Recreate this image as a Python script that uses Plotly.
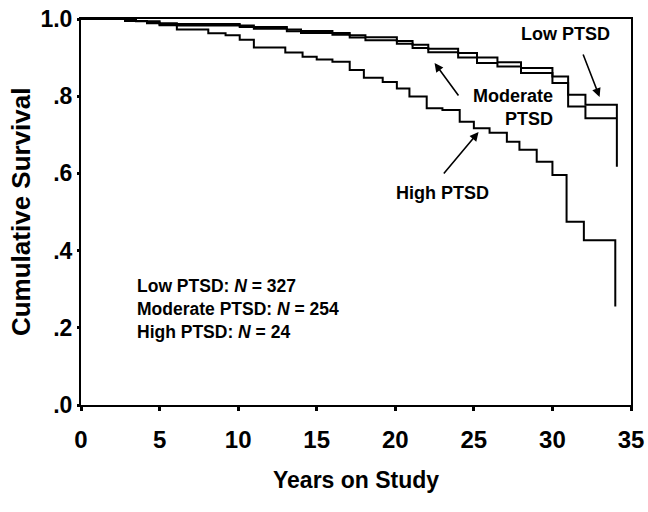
import plotly.graph_objects as go

# ---- data ----
low_t = [0, 3.0, 4.2, 5.0, 6.1, 10.1, 11.0, 13.1, 14.0, 16.0, 17.1, 18.1, 20.1, 21.1, 22.1, 24.0, 25.2, 26.5, 28.0, 30.0, 31.0, 32.1, 34.1, 34.1]
low_s = [1.0, 0.995, 0.991, 0.989, 0.987, 0.983, 0.979, 0.973, 0.969, 0.964, 0.958, 0.953, 0.943, 0.933, 0.923, 0.912, 0.900, 0.888, 0.873, 0.851, 0.804, 0.778, 0.778, 0.617]

mod_t = [0, 2.8, 4.2, 5.0, 6.1, 10.1, 11.0, 13.1, 14.0, 16.0, 17.1, 18.1, 20.1, 21.1, 22.1, 24.0, 25.2, 26.5, 28.0, 30.0, 31.0, 32.1, 34.1]
mod_s = [1.0, 0.995, 0.989, 0.986, 0.983, 0.979, 0.975, 0.968, 0.964, 0.959, 0.952, 0.945, 0.936, 0.925, 0.914, 0.900, 0.886, 0.877, 0.860, 0.834, 0.773, 0.743, 0.743]

high_t = [0, 3.5, 5.0, 6.1, 8.1, 9.2, 10.1, 11.0, 13.0, 14.1, 15.0, 16.0, 17.1, 18.0, 19.2, 20.1, 20.9, 22.0, 23.0, 24.1, 25.0, 26.0, 27.1, 27.9, 29.0, 30.0, 30.9, 32.0, 34.0, 34.0]
high_s = [1.0, 0.994, 0.984, 0.973, 0.963, 0.958, 0.946, 0.926, 0.913, 0.902, 0.895, 0.889, 0.868, 0.848, 0.837, 0.820, 0.799, 0.769, 0.764, 0.734, 0.717, 0.705, 0.682, 0.661, 0.630, 0.596, 0.475, 0.427, 0.427, 0.255]

x_ticks = [0, 5, 10, 15, 20, 25, 30, 35]
y_ticks = [0.0, 0.2, 0.4, 0.6, 0.8, 1.0]
y_tick_labels = [".0", ".2", ".4", ".6", ".8", "1.0"]

group_names = ["Low PTSD", "Moderate PTSD", "High PTSD"]
group_n = [327, 254, 24]

FONT = "Liberation Sans, Arial, sans-serif"
ARROW = dict(showarrow=True, arrowhead=2, arrowsize=1.1, arrowwidth=1.6, arrowcolor="black", text="")

fig = go.Figure()
for t, s, name in [(low_t, low_s, group_names[0]), (mod_t, mod_s, group_names[1]), (high_t, high_s, group_names[2])]:
    fig.add_trace(go.Scatter(x=t, y=s, mode="lines", line=dict(shape="hv", color="black", width=2),
                             name=name, showlegend=False, hoverinfo="skip"))

# curve labels
fig.add_annotation(x=30.8, y=0.962, text="<b>Low PTSD</b>", showarrow=False,
                   xanchor="center", yanchor="middle", font=dict(family=FONT, size=18, color="black"))
fig.add_annotation(x=33.0, y=0.798, ax=-17, ay=-44, **ARROW)
fig.add_annotation(x=27.5, y=0.772, text="<b>Moderate<br>PTSD</b>", showarrow=False, align="right",
                   xanchor="center", yanchor="middle", font=dict(family=FONT, size=18, color="black"))
fig.add_annotation(x=22.5, y=0.886, ax=25, ay=34, **ARROW)
fig.add_annotation(x=23.0, y=0.549, text="<b>High PTSD</b>", showarrow=False,
                   xanchor="center", yanchor="middle", font=dict(family=FONT, size=18, color="black"))
fig.add_annotation(x=25.3, y=0.707, ax=-36, ay=43, **ARROW)

ntext = "<br>".join(f"<b>{g}: <i>N</i> = {n}</b>" for g, n in zip(group_names, group_n))
fig.add_annotation(x=3.44, y=0.249, text=ntext, showarrow=False, align="left",
                   xanchor="left", yanchor="middle", font=dict(family=FONT, size=17.5, color="black"))

# axis titles
fig.add_annotation(x=0.5, y=-0.194, xref="paper", yref="paper", text="<b>Years on Study</b>", showarrow=False,
                   xanchor="center", yanchor="middle", font=dict(family=FONT, size=23, color="black"))
fig.add_annotation(x=-0.109, y=0.5, xref="paper", yref="paper", text="<b>Cumulative Survival</b>", showarrow=False,
                   textangle=-90, xanchor="center", yanchor="middle", font=dict(family=FONT, size=26, color="black"))

fig.update_layout(
    width=648, height=512,
    margin=dict(l=81, r=17, t=19, b=107),
    paper_bgcolor="white", plot_bgcolor="white",
    font=dict(family=FONT, color="black"),
)
fig.update_xaxes(range=[0, 35], tickvals=x_ticks, ticks="outside", ticklen=4, tickwidth=3,
                 tickcolor="black", showline=True, linecolor="black", linewidth=2, mirror=True,
                 showgrid=False, zeroline=False, automargin=False, ticklabeloverflow="allow",
                 tickfont=dict(family=FONT, size=24, color="black", weight="bold"),
                 ticklabelstandoff=8)
fig.update_yaxes(range=[0, 1], tickvals=y_ticks, ticktext=y_tick_labels, ticks="outside", ticklen=2, tickwidth=3,
                 tickcolor="black", showline=True, linecolor="black", linewidth=2, mirror=True,
                 showgrid=False, zeroline=False, automargin=False, ticklabeloverflow="allow",
                 tickfont=dict(family=FONT, size=23, color="black", weight="bold"),
                 ticklabelstandoff=0)

# remove the page's default body margin so the figure sits at the window's top-left corner
reset_page = ("document.documentElement.style.margin='0';document.body.style.margin='0';"
              "document.documentElement.style.overflow='hidden';document.body.style.overflow='hidden';")
fig.write_html("out.html", post_script=reset_page, config={"displayModeBar": False, "staticPlot": True})
